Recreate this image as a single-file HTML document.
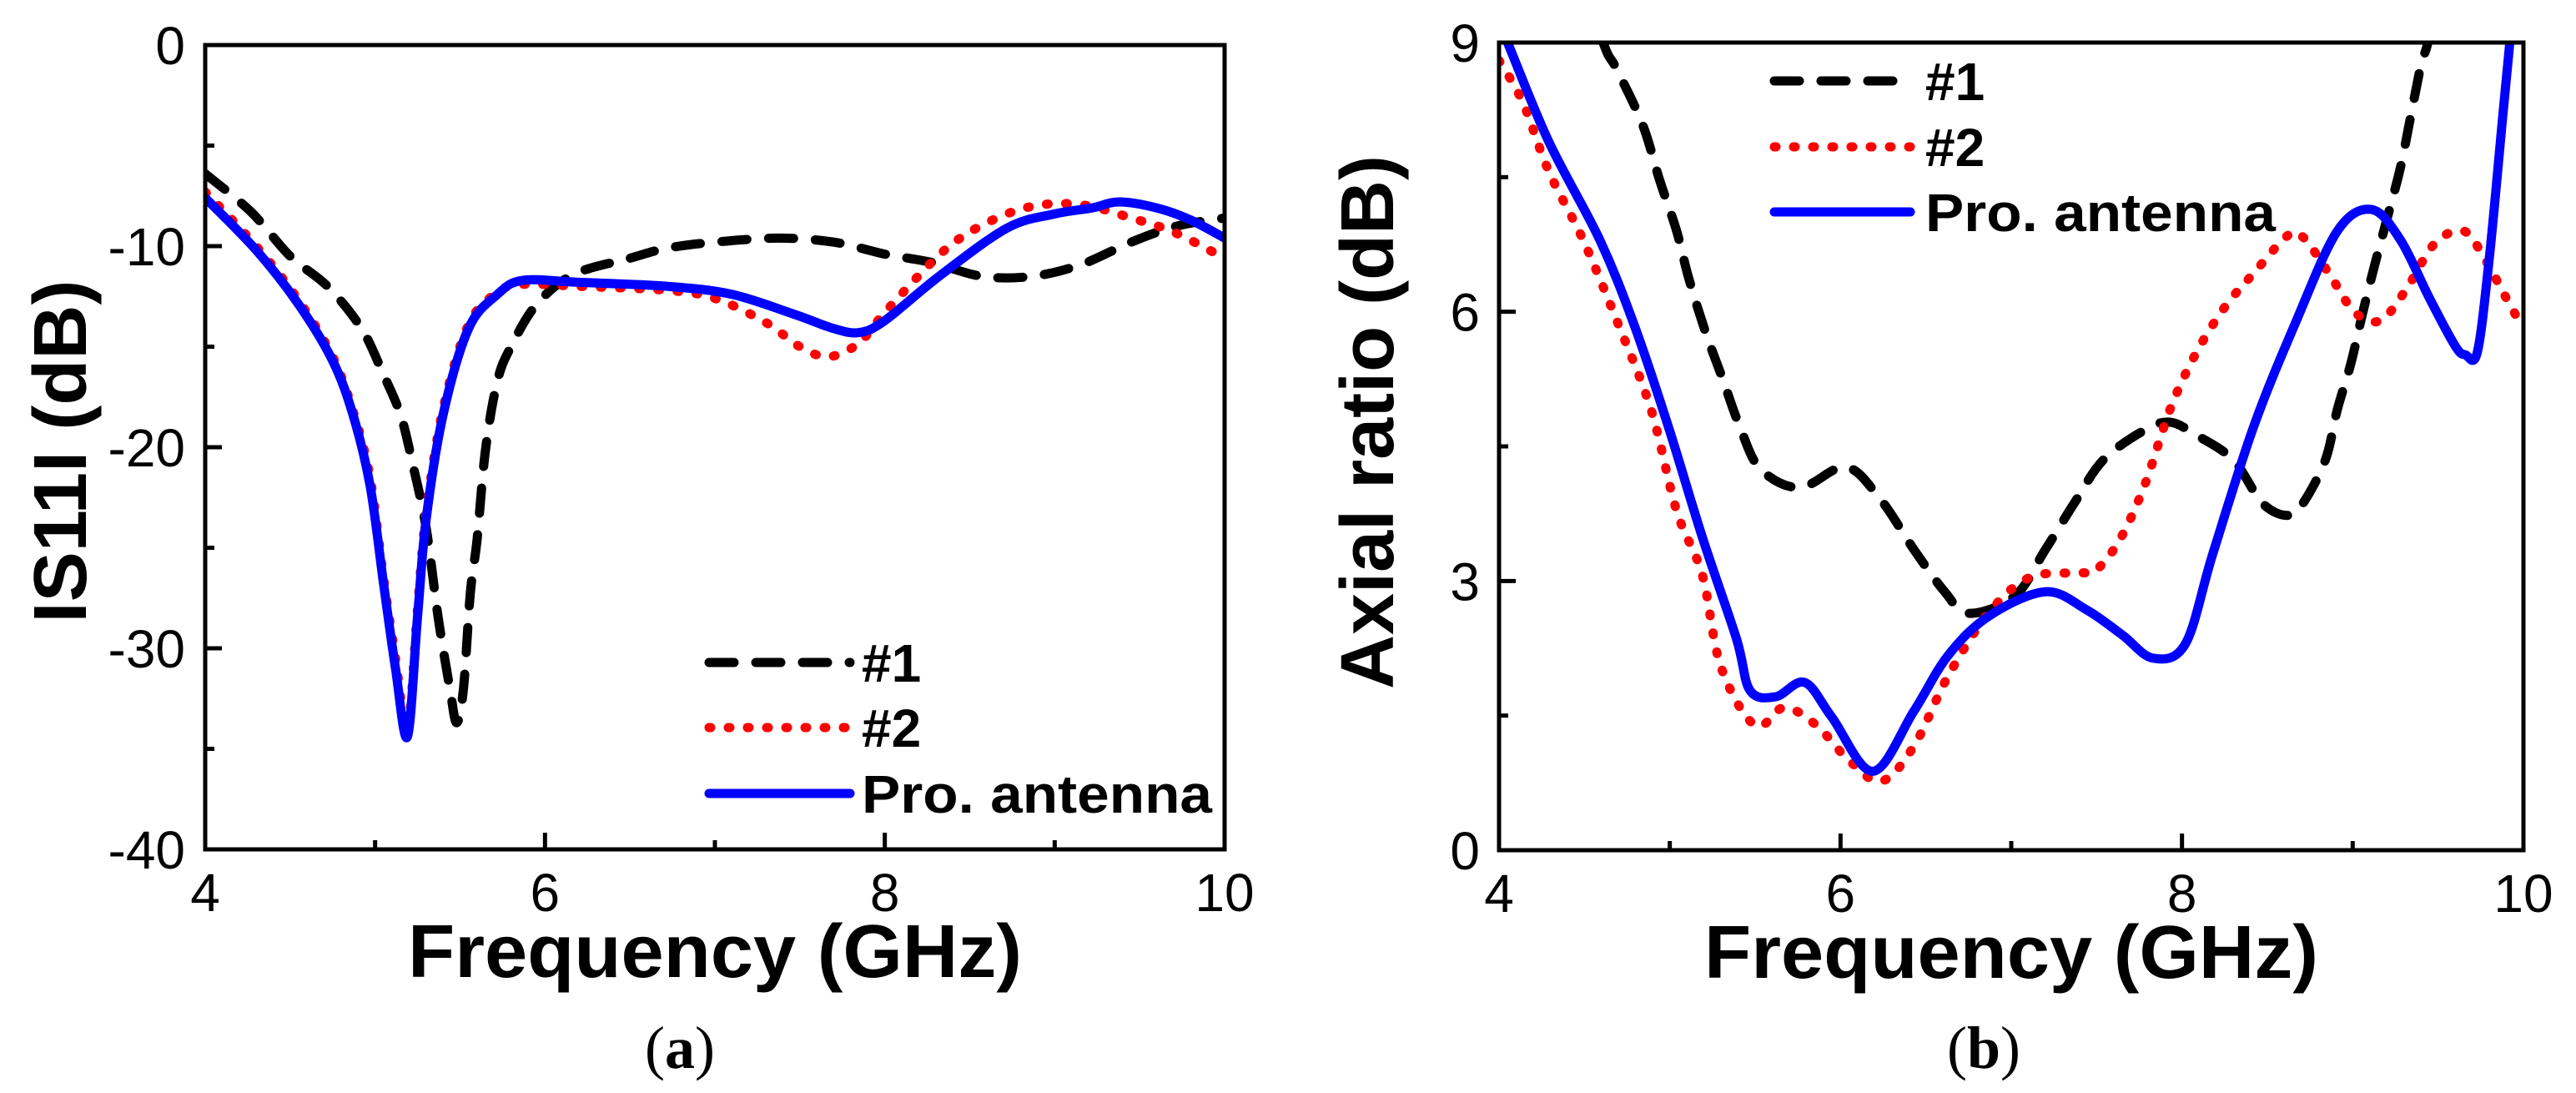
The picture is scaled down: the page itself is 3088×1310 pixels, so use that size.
<!DOCTYPE html>
<html><head><meta charset="utf-8"><style>
html,body{margin:0;padding:0;background:#fff;}
svg{display:block;}
text{font-family:"Liberation Sans",Arial,sans-serif;fill:#000;}
</style></head>
<body>
<svg id="fig" width="3088" height="1310" viewBox="0 0 3088 1310" xmlns="http://www.w3.org/2000/svg">
<defs>
<clipPath id="clipA"><rect x="246" y="54" width="1222" height="964"/></clipPath>
<clipPath id="clipB"><rect x="1797" y="51" width="1228" height="968"/></clipPath>
</defs>
<g id="panelA"></g>
<g id="panelB"></g>
</svg>
<script>
// ---- Panel (a) data: |S11| (dB) ----
const a_xTicks = [4, 6, 8, 10];
const a_yTicks = [0, -10, -20, -30, -40];
const a_f1 = [4,4.27,4.5,4.72,4.92,5.05,5.15,5.22,5.3,5.37,5.44,5.48,5.52,5.56,5.6,5.65,5.72,5.8,5.95,6.17,6.5,6.72,7.0,7.37,7.7,8.0,8.27,8.57,8.87,9.16,9.45,9.72,10];
const a_v1 = [-6.4,-8.3,-10.5,-12,-14.1,-16.4,-18.4,-20.8,-24,-28.4,-32,-33.7,-32,-27.3,-24.6,-20.1,-16.7,-15,-12.9,-11.4,-10.6,-10.1,-9.8,-9.6,-9.8,-10.4,-10.8,-11.5,-11.5,-10.9,-9.8,-9,-8.6];
const a_f2 = [4,4.3,4.55,4.75,4.87,4.97,5.05,5.12,5.19,5.25,5.3,5.4,5.55,5.72,5.87,6.2,6.72,7.0,7.3,7.5,7.67,7.85,8.0,8.3,8.5,8.75,8.97,9.2,9.45,9.7,10];
const a_v2 = [-7.3,-10,-12.7,-15.5,-18.2,-21.5,-26.5,-30.5,-34,-28,-23.3,-18.1,-13.9,-12.3,-11.9,-12.0,-12.2,-12.6,-13.8,-15,-15.5,-14.8,-13.3,-10.6,-9.3,-8.3,-7.9,-8.0,-8.6,-9.3,-10.6];
const a_f3 = [4,4.3,4.55,4.75,4.87,4.97,5.05,5.12,5.19,5.25,5.3,5.4,5.55,5.72,5.87,6.2,6.72,7.1,7.47,7.7,7.85,8.0,8.32,8.72,9.0,9.22,9.38,9.6,9.8,10];
const a_v3 = [-7.6,-10.2,-12.9,-15.7,-18.4,-21.9,-26.8,-31,-34.4,-28.4,-23.6,-18.4,-14.1,-12.4,-11.7,-11.8,-12.0,-12.4,-13.4,-14.1,-14.3,-13.7,-11.5,-9.1,-8.4,-8.1,-7.8,-8.1,-8.7,-9.6];
// ---- Panel (b) data: Axial ratio (dB) ----
const b_xTicks = [4, 6, 8, 10];
const b_yTicks = [0, 3, 6, 9];
const b_f1 = [4.45,4.61,4.69,4.84,4.94,5.04,5.11,5.21,5.31,5.41,5.53,5.76,6.03,6.23,6.43,6.61,6.75,7.02,7.2,7.37,7.54,7.78,7.93,8.08,8.3,8.47,8.62,8.71,8.84,8.91,8.99,9.06,9.13,9.21,9.28,9.34,9.4,9.44,9.5];
const b_v1 = [10,9,8.7,8.09,7.47,6.9,6.38,5.77,5.25,4.72,4.25,4.04,4.27,3.92,3.35,2.88,2.64,2.83,3.35,3.87,4.35,4.68,4.77,4.63,4.35,3.87,3.73,3.87,4.35,4.91,5.43,6.0,6.53,7.1,7.61,8.18,8.75,9,9.6];
const b_f2 = [4,4.14,4.29,4.49,4.69,4.89,5.04,5.19,5.3,5.5,5.67,5.86,6.05,6.24,6.43,6.63,6.87,7.11,7.4,7.49,7.63,7.78,7.93,8.08,8.25,8.42,8.62,8.71,8.86,9.01,9.16,9.31,9.48,9.65,9.77,9.9,10];
const b_v2 = [8.8,8.33,7.57,6.81,5.9,4.91,3.78,3.07,2.04,1.39,1.59,1.39,1.0,0.77,1.16,1.94,2.65,3.04,3.09,3.11,3.44,4.06,4.91,5.53,6.05,6.43,6.85,6.83,6.43,6.0,5.9,6.24,6.76,6.9,6.6,6.15,5.81];
const b_f3 = [3.98,4.05,4.29,4.59,4.79,4.99,5.19,5.39,5.47,5.62,5.79,5.95,6.19,6.43,6.63,6.87,7.2,7.44,7.65,7.83,8.02,8.18,8.42,8.67,8.91,9.11,9.28,9.45,9.6,9.66,9.73,9.8,9.88,9.95];
const b_v3 = [9.3,9,7.9,6.8,5.86,4.73,3.49,2.36,1.78,1.71,1.87,1.48,0.88,1.55,2.17,2.61,2.88,2.68,2.4,2.14,2.3,3.3,4.72,5.9,6.9,7.14,6.8,6.15,5.62,5.52,5.55,6.6,8.2,9.6];
const legendLabels = ["#1", "#2", "Pro. antenna"];

const NS = "http://www.w3.org/2000/svg";
function mk(tag, attrs, parent) {
  const e = document.createElementNS(NS, tag);
  for (const k in attrs) e.setAttribute(k, attrs[k]);
  parent.appendChild(e);
  return e;
}
function smoothPath(xs, ys) {
  let d = "M" + xs[0].toFixed(1) + "," + ys[0].toFixed(1);
  for (let i = 0; i < xs.length - 1; i++) {
    const x0 = xs[Math.max(i - 1, 0)], y0 = ys[Math.max(i - 1, 0)];
    const x1 = xs[i], y1 = ys[i], x2 = xs[i + 1], y2 = ys[i + 1];
    const x3 = xs[Math.min(i + 2, xs.length - 1)], y3 = ys[Math.min(i + 2, xs.length - 1)];
    const t = 6;
    const c1x = x1 + (x2 - x0) / t, c1y = y1 + (y2 - y0) / t;
    const c2x = x2 - (x3 - x1) / t, c2y = y2 - (y3 - y1) / t;
    d += " C" + c1x.toFixed(1) + "," + c1y.toFixed(1) + " " + c2x.toFixed(1) + "," + c2y.toFixed(1) + " " + x2.toFixed(1) + "," + y2.toFixed(1);
  }
  return d;
}
const styles = [
  {stroke: "#000", dash: "30 26", cap: "round", w: 11},
  {stroke: "#ff0000", dash: "2 21", cap: "round", w: 11},
  {stroke: "#0000ff", dash: "none", cap: "round", w: 11}
];

function drawPanel(g, cfg) {
  const X = f => cfg.x0 + (f - cfg.fmin) / (cfg.fmax - cfg.fmin) * (cfg.x1 - cfg.x0);
  const Y = v => cfg.y1 - (v - cfg.vmin) / (cfg.vmax - cfg.vmin) * (cfg.y1 - cfg.y0);
  const sg = mk("g", {"clip-path": "url(#" + cfg.clip + ")"}, g);
  
  
  cfg.series.forEach((s, i) => {
    const st = styles[i];
    const p = mk("path", {d: smoothPath(s.f.map(X), s.v.map(Y)), fill: "none", stroke: st.stroke, "stroke-width": st.w, "stroke-dasharray": st.dash, "stroke-linecap": st.cap, "stroke-linejoin": "round"}, sg);
    
    
  });
  const fr = mk("rect", {x: cfg.x0, y: cfg.y0, width: cfg.x1 - cfg.x0, height: cfg.y1 - cfg.y0, fill: "none", stroke: "#000", "stroke-width": 5}, g);
  
  
  cfg.xTicks.forEach((t, i) => {
    const x = X(t);
    const tk = mk("line", {x1: x, x2: x, y1: cfg.y1, y2: cfg.y1 - 20, stroke: "#000", "stroke-width": 5}, g);
    
    
    if (i < cfg.xTicks.length - 1) {
      const xm = X((t + cfg.xTicks[i + 1]) / 2);
      const mt = mk("line", {x1: xm, x2: xm, y1: cfg.y1, y2: cfg.y1 - 11, stroke: "#000", "stroke-width": 5}, g);
      
      
    }
    const lb = mk("text", {x: x, y: cfg.y1 + 74, "font-size": 64, "text-anchor": "middle"}, g);
    lb.textContent = String(t);
    
    
  });
  cfg.yTicks.forEach((t, i) => {
    const y = Y(t);
    const tk = mk("line", {x1: cfg.x0, x2: cfg.x0 + 20, y1: y, y2: y, stroke: "#000", "stroke-width": 5}, g);
    
    
    if (i < cfg.yTicks.length - 1) {
      const ym = Y((t + cfg.yTicks[i + 1]) / 2);
      const mt = mk("line", {x1: cfg.x0, x2: cfg.x0 + 11, y1: ym, y2: ym, stroke: "#000", "stroke-width": 5}, g);
      
      
    }
    const lb = mk("text", {x: cfg.ylabRight, y: y + 23, "font-size": 64, "text-anchor": "end"}, g);
    lb.textContent = String(t);
    
    
  });
  const xt = mk("text", {x: (cfg.x0 + cfg.x1) / 2, y: cfg.y1 + 153, "font-size": 90, "font-weight": "bold", "text-anchor": "middle", textLength: 736, lengthAdjust: "spacingAndGlyphs"}, g);
  xt.textContent = "Frequency (GHz)";
  
  
  const yt = mk("text", {x: 0, y: 0, "font-size": 90, "font-weight": "bold", "text-anchor": "middle", textLength: cfg.ytLen, lengthAdjust: "spacingAndGlyphs", transform: "translate(" + cfg.ytX + "," + cfg.ytY + ") rotate(-90)"}, g);
  yt.textContent = cfg.yTitle;
  
  
  cfg.series.forEach((s, i) => {
    const st = styles[i];
    const ly = cfg.legY[i];
    const ll = mk("line", {x1: cfg.legX0, x2: cfg.legX1, y1: ly, y2: ly, stroke: st.stroke, "stroke-width": st.w, "stroke-dasharray": st.dash, "stroke-linecap": st.cap}, g);
    
    
    const attrs = {x: cfg.legTX, y: ly + 23, "font-size": 64, "font-weight": "bold"};
    if (i === 2) { attrs.textLength = 420; attrs.lengthAdjust = "spacingAndGlyphs"; }
    const lt = mk("text", attrs, g);
    lt.textContent = legendLabels[i];
    
    
  });
  const cap = mk("text", {x: cfg.capX, y: 1280, "font-size": 72, "text-anchor": "middle", style: "font-family:'Liberation Serif',serif"}, g);
  cap.appendChild(document.createTextNode("("));
  const b = mk("tspan", {"font-weight": "bold"}, cap);
  b.textContent = cfg.capLetter;
  cap.appendChild(document.createTextNode(")"));
  
  
}

drawPanel(document.getElementById("panelA"), {
  x0: 246, x1: 1468, y0: 54, y1: 1018, fmin: 4, fmax: 10, vmin: -40, vmax: 0,
  clip: "clipA", xTicks: a_xTicks, yTicks: a_yTicks, ylabRight: 222,
  yTitle: "IS11I (dB)", ytX: 103, ytY: 541, ytLen: 411,
  legX0: 850, legX1: 1019, legTX: 1033, legY: [794, 872, 951],
  capX: 815, capLetter: "a",
  series: [
    {f: a_f1, v: a_v1, name: "series-1-dashed"},
    {f: a_f2, v: a_v2, name: "series-2-dotted"},
    {f: a_f3, v: a_v3, name: "series-pro-antenna"}
  ]
});
drawPanel(document.getElementById("panelB"), {
  x0: 1797, x1: 3025, y0: 51, y1: 1019, fmin: 4, fmax: 10, vmin: 0, vmax: 9,
  clip: "clipB", xTicks: b_xTicks, yTicks: b_yTicks, ylabRight: 1774,
  yTitle: "Axial ratio (dB)", ytX: 1670, ytY: 506, ytLen: 640,
  legX0: 2127, legX1: 2290, legTX: 2308, legY: [97, 176, 254],
  capX: 2378, capLetter: "b",
  series: [
    {f: b_f1, v: b_v1, name: "series-1-dashed"},
    {f: b_f2, v: b_v2, name: "series-2-dotted"},
    {f: b_f3, v: b_v3, name: "series-pro-antenna"}
  ]
});
</script>
</body></html>
